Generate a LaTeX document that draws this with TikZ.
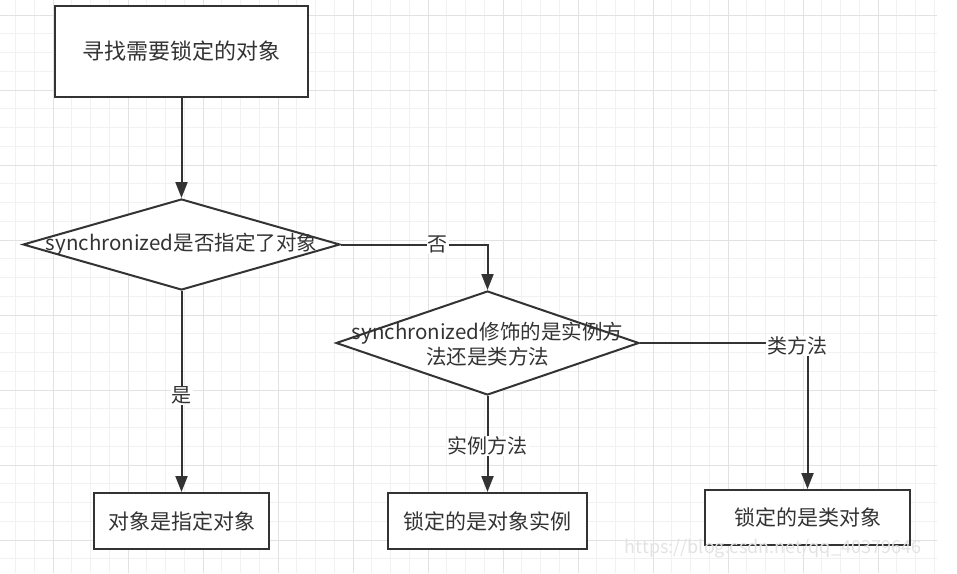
\documentclass[tikz,border=0pt]{standalone}
\usepackage{fontspec}
\setmainfont{Noto Sans CJK SC}
\usetikzlibrary{arrows.meta, shapes.geometric}
\definecolor{ink}{HTML}{333333}
\definecolor{gridminor}{HTML}{F1F1F1}
\definecolor{gridmajor}{HTML}{E2E2E2}

\begin{document}
\begin{tikzpicture}[x=1pt, y=-1pt, >={Triangle[length=16pt,width=12pt]},
  line/.style={draw=ink, line width=2pt},
  box/.style={rectangle, draw=ink, line width=2pt, fill=white, text=ink, font=\fontsize{21}{25}\selectfont},
  decision/.style={diamond, draw=ink, line width=2pt, fill=white, inner sep=0pt},
  dtext/.style={text=ink, align=center, font=\fontsize{20.5}{25}\selectfont},
  lbl/.style={fill=white, text=ink, inner sep=1pt, font=\fontsize{20}{24}\selectfont}]
  \fill[white] (0,0) rectangle (957,573);
  \useasboundingbox (0,0) rectangle (957,573);
  % background grid
  \foreach \k in {0,...,50} \draw[gridminor, line width=1pt] ({-3.25+18.75*\k},0) -- ++(0,573);
  \foreach \k in {0,...,31} \draw[gridminor, line width=1pt] (0,{-3.75+18.75*\k}) -- (937,{-3.75+18.75*\k});
  \foreach \k in {0,...,11} \draw[gridmajor, line width=1pt] ({53+75*\k},0) -- ++(0,573);
  \foreach \k in {0,...,7} \draw[gridmajor, line width=1pt] (0,{15+75*\k}) -- (937,{15+75*\k});

  % nodes
  \node[box, minimum width=253, minimum height=91, font=\fontsize{22}{26}\selectfont] (find) at (181.5,51) {寻找需要锁定的对象};
  \node[decision, minimum width=317, minimum height=91] (q1) at (181.5,244.5) {};
  \node[dtext] (q1t) at (q1) {synchronized是否指定了对象};
  \node[decision, minimum width=303, minimum height=104] (q2) at (487.5,343) {};
  \node[dtext] (q2t) at (487.5,344.5) {synchronized修饰的是实例方\\法还是类方法};
  \node[box, minimum width=175, minimum height=56] (yes) at (181.5,521) {对象是指定对象};
  \node[box, minimum width=199, minimum height=56] (inst) at (487.5,521) {锁定的是对象实例};
  \node[box, minimum width=205, minimum height=55] (cls) at (807.5,517.5) {锁定的是类对象};

  % connectors
  \draw[line,->] (find) -- (q1);
  \draw[line,->] (q1.east) -| node[lbl, pos=0.33] {否} (q2.north);
  \draw[line,->] (q1.south) -- node[lbl, pos=0.52] {是} (yes.north);
  \draw[line,->] (q2.south) -- node[lbl, pos=0.52] {实例方法} (inst.north);
  \draw[line,->] (q2.east) -| node[lbl, pos=0.47, yshift=-3pt] {类方法} (cls.north);

  \node[text=gray!22, font=\fontsize{18}{20}\selectfont] (mark) at (773,549) {https://blog.csdn.net/qq\_40379646};
\end{tikzpicture}
\end{document}
